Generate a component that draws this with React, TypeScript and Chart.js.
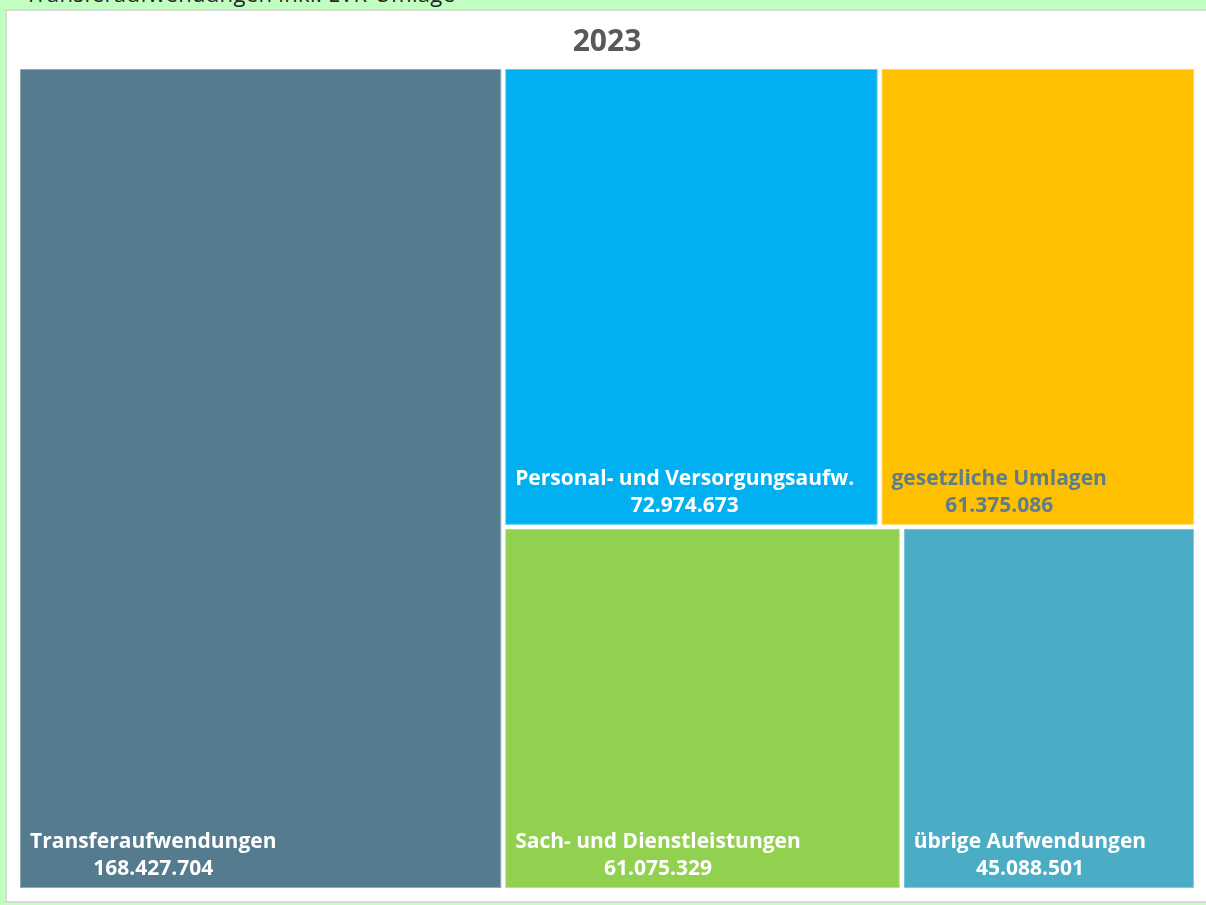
import React, { useEffect, useRef } from "react";
import { Chart, registerables } from "chart.js";

Chart.register(...registerables);

// ---- data ----
const YEAR = "2023";
const HEADER = "Transferaufwendungen inkl. LVR-Umlage";
const categories = [
  "Transferaufwendungen",
  "Personal- und Versorgungsaufw.",
  "gesetzliche Umlagen",
  "Sach- und Dienstleistungen",
  "übrige Aufwendungen",
];
const values = [168427704, 72974673, 61375086, 61075329, 45088501];
const colors = ["#557B8F", "#00B0F0", "#FFC000", "#92D050", "#4BACC6"];
const labelColors = ["#FFFFFF", "#FFFFFF", "#5E7D8C", "#FFFFFF", "#FFFFFF"];

// ---- layout constants ----
const CANVAS_W = 1199;
const CANVAS_H = 891;
const PAD_L = 11;
const PAD_R = 10;
const PAD_B = 12;
const AREA_TOP = 56;
const AREA_W = CANVAS_W - PAD_L - PAD_R;
const AREA_H = CANVAS_H - AREA_TOP - PAD_B;
const FONT = "'Open Sans', 'DejaVu Sans', sans-serif";

const fmt = (v: number) => String(v).replace(/\B(?=(\d{3})+(?!\d))/g, ".");

type Cell = { x0: number; y0: number; x1: number; y1: number };

// squarified treemap layout in area-proportional units, normalised to [0,1]
function squarify(vals: number[], W: number, H: number): Cell[] {
  const total = vals.reduce((a, b) => a + b, 0);
  const areas = vals.map((v) => (v / total) * W * H);
  const out: Cell[] = [];
  let cx = 0, cy = 0, cw = W, ch = H;
  let idx = 0;
  const worst = (row: number[], s: number) => {
    const sum = row.reduce((a, b) => a + b, 0);
    const mx = Math.max(...row), mn = Math.min(...row);
    return Math.max((s * s * mx) / (sum * sum), (sum * sum) / (s * s * mn));
  };
  while (idx < areas.length) {
    const s = Math.min(cw, ch);
    const row = [areas[idx]];
    let j = idx + 1;
    while (j < areas.length && worst([...row, areas[j]], s) <= worst(row, s)) {
      row.push(areas[j]);
      j++;
    }
    const sum = row.reduce((a, b) => a + b, 0);
    if (cw >= ch) {
      const colW = sum / ch;
      let yy = cy;
      for (const a of row) {
        const hh = a / colW;
        out.push({ x0: cx, y0: yy, x1: cx + colW, y1: yy + hh });
        yy += hh;
      }
      cx += colW;
      cw -= colW;
    } else {
      const rowH = sum / cw;
      let xx = cx;
      for (const a of row) {
        const ww = a / rowH;
        out.push({ x0: xx, y0: cy, x1: xx + ww, y1: cy + rowH });
        xx += ww;
      }
      cy += rowH;
      ch -= rowH;
    }
    idx = j;
  }
  return out.map((c) => ({ x0: c.x0 / W, y0: c.y0 / H, x1: c.x1 / W, y1: c.y1 / H }));
}

const cells = squarify(values, AREA_W, AREA_H);

const labelPlugin = {
  id: "cellLabels",
  afterDatasetsDraw(chart: any) {
    const { ctx } = chart;
    const xs = chart.scales.x;
    const ys = chart.scales.y;
    cells.forEach((c, i) => {
      const left = xs.getPixelForValue(c.x0) + 2;
      const right = xs.getPixelForValue(c.x1) - 2;
      const top = ys.getPixelForValue(c.y0) + 2;
      const bottom = ys.getPixelForValue(c.y1) - 2;
      ctx.save();
      // faint light inner outline like the original
      ctx.strokeStyle = "rgba(255,255,255,0.35)";
      ctx.lineWidth = 1;
      ctx.strokeRect(left + 0.5, top + 0.5, right - left - 1, bottom - top - 1);
      ctx.font = `bold 21px ${FONT}`;
      const nameW = ctx.measureText(categories[i]).width;
      const cx = left + 10 + nameW / 2;
      ctx.fillStyle = labelColors[i];
      ctx.textAlign = "center";
      ctx.textBaseline = "alphabetic";
      ctx.fillText(categories[i], cx, bottom - 40);
      ctx.fillText(fmt(values[i]), cx, bottom - 13);
      ctx.restore();
    });
  },
};

export default function App() {
  const ref = useRef<HTMLCanvasElement | null>(null);
  useEffect(() => {
    if (!ref.current) return;
    const datasets = cells.map((c, i) => ({
      label: categories[i],
      data: [
        { x: c.x0, y: c.y0 },
        { x: c.x1, y: c.y0 },
        { x: c.x1, y: c.y1 },
        { x: c.x0, y: c.y1 },
        { x: c.x0, y: c.y0 },
      ],
      showLine: true,
      fill: "shape",
      backgroundColor: colors[i],
      borderColor: "#FFFFFF",
      borderWidth: 4,
      borderJoinStyle: "miter",
      pointRadius: 0,
      pointHoverRadius: 0,
      tension: 0,
      clip: 4,
    }));
    const chart = new Chart(ref.current, {
      type: "scatter",
      data: { datasets } as any,
      options: {
        animation: false,
        responsive: false,
        events: [],
        layout: { padding: { left: PAD_L, right: PAD_R, top: 0, bottom: PAD_B } },
        scales: {
          x: { type: "linear", min: 0, max: 1, display: false },
          y: { type: "linear", min: 0, max: 1, reverse: true, display: false },
        },
        plugins: {
          legend: { display: false },
          tooltip: { enabled: false },
          title: {
            display: true,
            text: YEAR,
            color: "#595959",
            font: { family: FONT, size: 30, weight: "bold" },
            padding: { top: 13, bottom: 7 },
          },
        },
      } as any,
      plugins: [labelPlugin],
    });
    (document as any).fonts?.load(`bold 21px 'Open Sans'`).then(() => chart.update());
    return () => chart.destroy();
  }, []);

  return (
    <div
      style={{
        position: "fixed",
        left: 0,
        top: 0,
        width: 1206,
        height: 905,
        background: "#C0FFC0",
        overflow: "hidden",
      }}
    >
      <div
        style={{
          position: "absolute",
          left: 25,
          top: -17,
          font: `22px ${FONT}`,
          letterSpacing: "0.35px",
          lineHeight: "20px",
          color: "#262626",
          whiteSpace: "nowrap",
        }}
      >
        {HEADER}
      </div>
      <div
        style={{
          position: "absolute",
          left: 5,
          top: 9,
          width: 1210,
          height: CANVAS_H - 1,
          border: "2px solid #D9D9D9",
          background: "#FFFFFF",
          overflow: "hidden",
        }}
      >
        <canvas
          ref={ref}
          width={CANVAS_W}
          height={CANVAS_H}
          style={{ position: "absolute", left: 0, top: 0, width: CANVAS_W, height: CANVAS_H }}
        />
      </div>
    </div>
  );
}
